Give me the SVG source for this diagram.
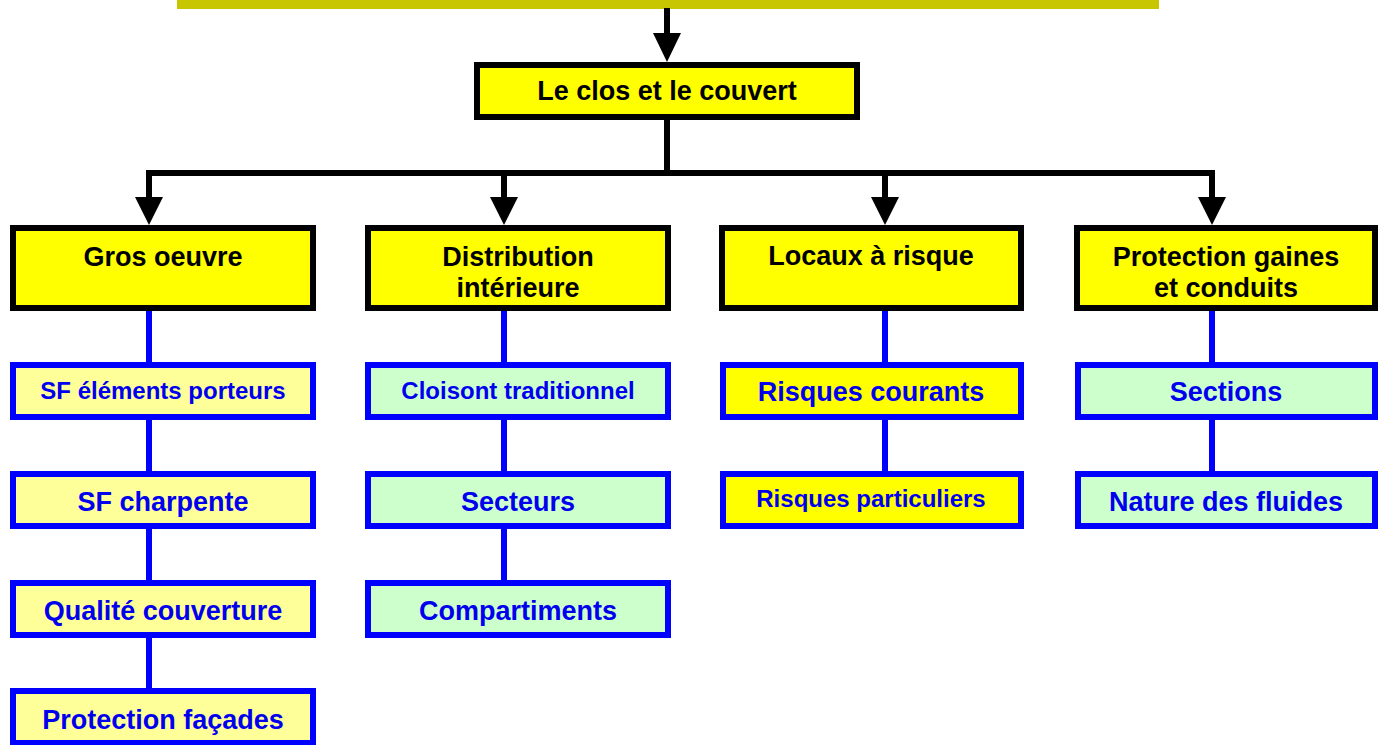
<svg xmlns="http://www.w3.org/2000/svg" width="1386" height="745" viewBox="0 0 1386 745">
<style>
text{font-family:"Liberation Sans",Arial,sans-serif;font-weight:bold;text-anchor:middle}
.k rect{fill:#FFFF00;stroke:#000;stroke-width:6}
.k text{fill:#000;font-size:27px}
.b rect{stroke:#0000FF;stroke-width:6}
.b text{fill:#0000EE;font-size:27px}
.b text.s{font-size:24px}
.y rect{fill:#FFFF00}
.ly rect{fill:#FFFF99}
.g rect{fill:#CCFFCC}
.blk{stroke:#000;stroke-width:6;fill:none}
.blu{stroke:#0000FF;stroke-width:6;fill:none}
.ah{fill:#000}
</style>
<rect x="177" y="-2" width="982" height="11" fill="#C8C600"/>
<g id="connectors">
<line class="blk" x1="667" y1="8" x2="667" y2="40"/>
<polygon class="ah" points="653,33 681,33 667,62"/>
<polyline class="blk" points="667,120 667,173"/>
<polyline class="blk" points="149,200 149,173 1212,173 1212,200"/>
<line class="blk" x1="504" y1="173" x2="504" y2="200"/>
<line class="blk" x1="885" y1="173" x2="885" y2="200"/>
<polygon class="ah" points="135,197 163,197 149,225"/>
<polygon class="ah" points="490,197 518,197 504,225"/>
<polygon class="ah" points="871,197 899,197 885,225"/>
<polygon class="ah" points="1198,197 1226,197 1212,225"/>
<line class="blu" x1="149" y1="310" x2="149" y2="688"/>
<line class="blu" x1="504" y1="310" x2="504" y2="580"/>
<line class="blu" x1="885" y1="310" x2="885" y2="471"/>
<line class="blu" x1="1212" y1="310" x2="1212" y2="471"/>
</g>
<g id="n0" class="k"><rect x="477" y="65" width="380" height="52"/><text x="667" y="100">Le clos et le couvert</text></g>
<g id="n1" class="k"><rect x="13" y="228" width="300" height="80"/><text x="163" y="266">Gros oeuvre</text></g>
<g id="n2" class="k"><rect x="368" y="228" width="300" height="80"/><text x="518" y="266">Distribution</text><text x="518" y="297">intérieure</text></g>
<g id="n3" class="k"><rect x="722" y="228" width="299" height="80"/><text x="871" y="265">Locaux à risque</text></g>
<g id="n4" class="k"><rect x="1077" y="228" width="298" height="80"/><text x="1226" y="266">Protection gaines</text><text x="1226" y="297">et conduits</text></g>
<g id="n5" class="b ly"><rect x="13" y="365" width="300" height="52"/><text class="s" x="163" y="399">SF éléments porteurs</text></g>
<g id="n6" class="b ly"><rect x="13" y="474" width="300" height="52"/><text x="163" y="511">SF charpente</text></g>
<g id="n7" class="b ly"><rect x="13" y="583" width="300" height="52"/><text x="163" y="620">Qualité couverture</text></g>
<g id="n8" class="b ly"><rect x="13" y="691" width="300" height="52"/><text x="163" y="729">Protection façades</text></g>
<g id="n9" class="b g"><rect x="368" y="365" width="300" height="52"/><text class="s" x="518" y="399">Cloisont traditionnel</text></g>
<g id="n10" class="b g"><rect x="368" y="474" width="300" height="52"/><text x="518" y="511">Secteurs</text></g>
<g id="n11" class="b g"><rect x="368" y="583" width="300" height="52"/><text x="518" y="620">Compartiments</text></g>
<g id="n12" class="b y"><rect x="723" y="365" width="298" height="52"/><text x="871" y="401">Risques courants</text></g>
<g id="n13" class="b y"><rect x="723" y="474" width="298" height="52"/><text class="s" x="871" y="507">Risques particuliers</text></g>
<g id="n14" class="b g"><rect x="1078" y="365" width="297" height="52"/><text x="1226" y="401">Sections</text></g>
<g id="n15" class="b g"><rect x="1078" y="474" width="297" height="52"/><text x="1226" y="511">Nature des fluides</text></g>
</svg>
